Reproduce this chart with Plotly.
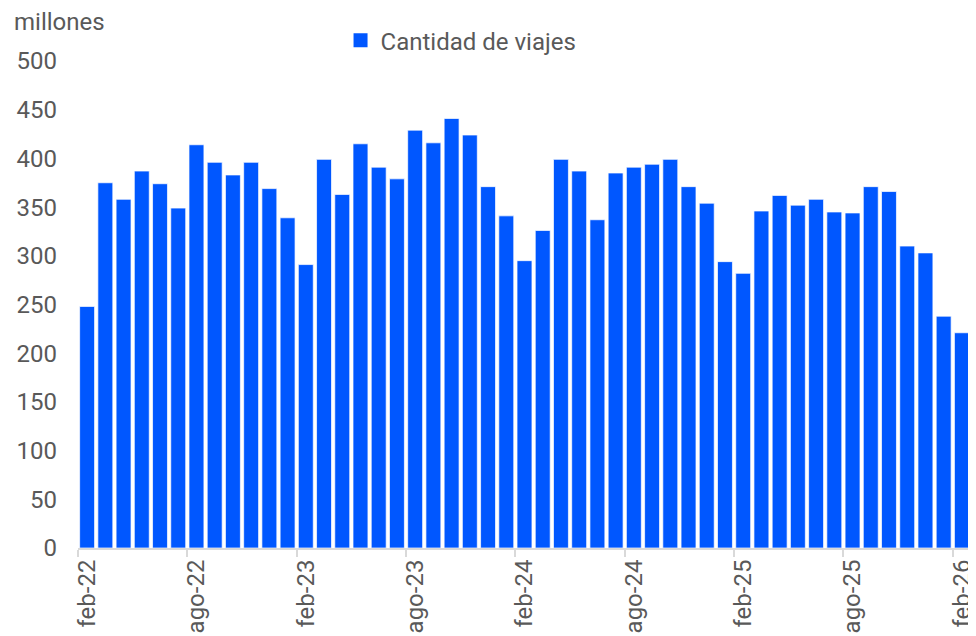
import plotly.graph_objects as go

months = ["ene", "feb", "mar", "abr", "may", "jun", "jul", "ago", "sep", "oct", "nov", "dic"]
categories = []
y, m = 22, 1  # start at feb-22
for i in range(49):
    categories.append(f"{months[m]}-{y}")
    m += 1
    if m == 12:
        m = 0
        y += 1

values = [248, 375, 358, 387, 374, 349, 414, 396, 383, 396, 369, 339,
          291, 399, 363, 415, 391, 379, 429, 416, 441, 424, 371, 341,
          295, 326, 399, 387, 337, 385, 391, 394, 399, 371, 354, 294,
          282, 346, 362, 352, 358, 345, 344, 371, 366, 310, 303, 238, 221]

series_name = "Cantidad de viajes"
y_ticks = list(range(0, 501, 50))

grey = "#595959"
blue = "#0057FF"
font_family = "Roboto, Arial, sans-serif"
FS = 24

fig = go.Figure()
fig.add_trace(go.Bar(
    x=categories, y=values, name=series_name,
    marker=dict(color=blue, line=dict(color="rgba(255,255,255,0.7)", width=1)),
    showlegend=False, legendgroup="v",
))
# legend entry with a larger square swatch
fig.add_trace(go.Scatter(
    x=[None], y=[None], mode="markers", name=series_name, legendgroup="v",
    marker=dict(symbol="square", size=14, color=blue), showlegend=True,
))

# page body adds 8px offset; plot area in figure coords: x 70..968, y 53..540
fig.update_layout(
    width=976, height=636,
    margin=dict(l=70, r=8, t=53, b=96),
    paper_bgcolor="white", plot_bgcolor="white",
    bargap=0.18,
    font=dict(family=font_family, size=FS, color=grey),
    showlegend=True,
    legend=dict(orientation="h", x=0.294, xanchor="left", y=1.042, yanchor="middle",
                font=dict(size=FS, color=grey), bgcolor="rgba(0,0,0,0)",
                itemwidth=30, tracegroupgap=0),
    xaxis=dict(
        type="category", categoryorder="array", categoryarray=categories,
        tickmode="linear", tick0=0, dtick=6,
        tickson="boundaries", ticks="outside", ticklen=7, tickwidth=2, tickcolor="#D9D9D9",
        showline=True, linecolor="#D9D9D9", linewidth=2,
        showgrid=False, tickangle=-90,
        tickfont=dict(size=FS, color=grey),
        range=[-0.5, 48.5],
    ),
    yaxis=dict(
        range=[0, 500], tickvals=y_ticks, showgrid=False, zeroline=False,
        showline=False, ticks="", ticklabelstandoff=20,
        tickfont=dict(size=FS, color=grey),
    ),
    annotations=[dict(text="millones", xref="paper", yref="paper",
                      x=-66/898, y=(540-14)/487, xanchor="left", yanchor="middle",
                      showarrow=False, font=dict(size=FS, color=grey))],
)

fig.write_html("out.html")
